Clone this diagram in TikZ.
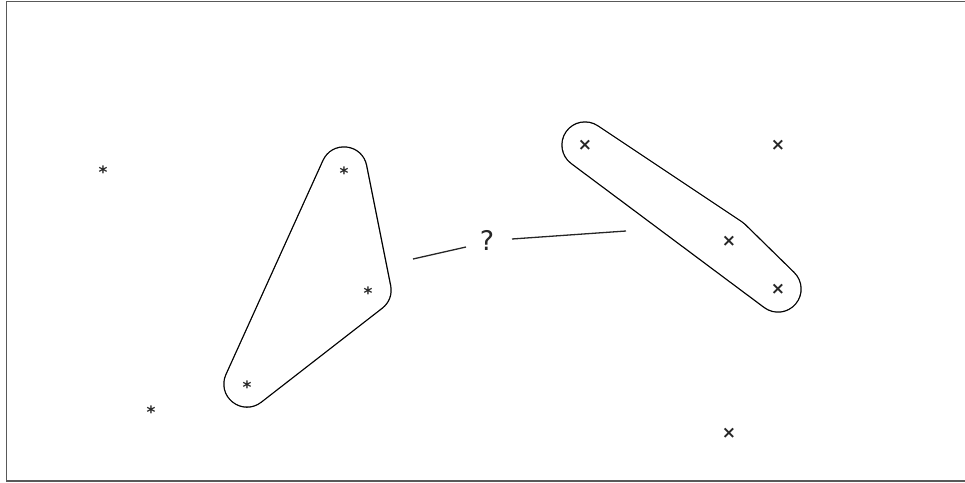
\documentclass[tikz,border=0pt]{standalone}
\usepackage{fontspec}
\setmainfont{DejaVu Sans}
\begin{document}
\begin{tikzpicture}[x=1pt,y=-1pt,
  mk/.style={inner sep=0pt,font=\fontsize{17}{17}\selectfont\bfseries,text=black!85},
  hullout/.style={draw=black,fill=black,line width=47.4pt,line join=round},
  hullin/.style={draw=white,fill=white,line width=44.8pt,line join=round},
  link/.style={draw=black!85,line width=1.3pt}]
\useasboundingbox (0,0) rectangle (965,482);
\clip (0,0) rectangle (965,482);
\draw[black!65,line width=1.6pt] (6.5,1.5) rectangle (970,481);
% hulls
\path[hullout] (344,170) -- (368,290) -- (247,384) -- cycle;
\path[hullin] (344,170) -- (368,290) -- (247,384) -- cycle;
\path[hullout] (585,145) -- (729,241) -- (778,289) -- cycle;
\path[hullin] (585,145) -- (729,241) -- (778,289) -- cycle;
% asterisks
\node[mk] (a1) at (103,172) {*};
\node[mk] (a2) at (344,173) {*};
\node[mk] (a3) at (368,293) {*};
\node[mk] (a4) at (247,387) {*};
\node[mk] (a5) at (151,412) {*};
% crosses
\node[mk] (c1) at (585,145) {×};
\node[mk] (c2) at (778,145) {×};
\node[mk] (c3) at (729,241) {×};
\node[mk] (c4) at (778,289) {×};
\node[mk] (c5) at (729,433) {×};
% question
\node[inner sep=0pt,font=\fontsize{27}{27}\selectfont,text=black!85] (q) at (487,240) {?};
\coordinate (l1) at (413,259);
\coordinate (l2) at (466,247);
\coordinate (r1) at (512,239);
\coordinate (r2) at (626,231);
\draw[link] (l1) -- (l2);
\draw[link] (r1) -- (r2);
\end{tikzpicture}
\end{document}
